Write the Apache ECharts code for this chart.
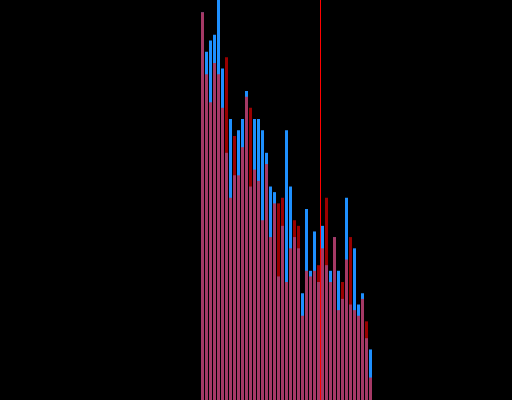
<!DOCTYPE html>
<html>
<head>
<meta charset="utf-8">
<script src="https://cdn.jsdelivr.net/npm/echarts@6/dist/echarts.min.js"></script>
<style>html,body{margin:0;padding:0;background:#000;}#c{width:512px;height:400px;}</style>
</head>
<body>
<div id="c"></div>
<script>
// bin start values (each bin is 1 unit wide)
const binStarts = [50,51,52,53,54,55,56,57,58,59,60,61,62,63,64,65,66,67,68,69,70,71,72,73,74,75,76,77,78,79,80,81,82,83,84,85,86,87,88,89,90,91,92];
// counts per bin, blue series
const blueCounts = [69,62,64,65,72,59,44,50,40,48,50,55,38,50,50,48,44,38,37,22,31,48,38,29,27,19,34,23,30,21,31,24,23,29,23,18,36,17,27,17,19,11,9];
// counts per bin, red series
const redCounts = [69,58,53,60,58,52,61,36,47,40,45,54,52,41,39,32,42,29,35,35,36,21,27,32,31,15,23,22,23,24,27,36,21,29,16,21,25,29,16,15,18,14,4];
// vertical reference line position
const refLine = 80;

const chart = echarts.init(document.getElementById('c'), null, {renderer: 'canvas'});
const toData = arr => arr.map((v, i) => [binStarts[i] + 0.5, v]);
chart.setOption({
  backgroundColor: '#000000',
  animation: false,
  grid: {left: 0, right: 0, top: 0, bottom: 0},
  xAxis: {
    type: 'value', min: -0.125, max: 127.875,
    axisLine: {show: false}, axisTick: {show: false}, axisLabel: {show: false}, splitLine: {show: false}
  },
  yAxis: {
    type: 'value', min: 0, max: 71.2,
    axisLine: {show: false}, axisTick: {show: false}, axisLabel: {show: false}, splitLine: {show: false}
  },
  series: [
    {
      type: 'bar', data: toData(blueCounts), barWidth: 3, barGap: '-100%',
      itemStyle: {color: '#1e90ff'}
    },
    {
      type: 'bar', data: toData(redCounts), barWidth: 3, barGap: '-100%',
      itemStyle: {color: 'rgba(255,0,0,0.6)'},
      markLine: {
        silent: true, symbol: 'none', label: {show: false},
        lineStyle: {color: '#ff0000', width: 1, type: 'solid', opacity: 1},
        data: [{xAxis: refLine}]
      }
    }
  ]
});
</script>
</body>
</html>
